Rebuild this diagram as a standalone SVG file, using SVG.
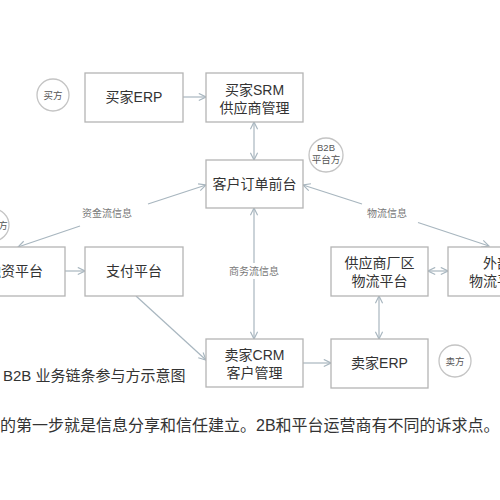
<svg xmlns="http://www.w3.org/2000/svg" width="500" height="500" viewBox="0 0 500 500">
<defs>
<style>
.box{fill:#fff;stroke:#b4b4b4;stroke-width:1.3}
.t{font-family:"Liberation Sans","Noto Sans CJK SC",sans-serif;font-size:14px;fill:#333;text-anchor:middle}
.c{fill:#fff;stroke:#c4c4c4;stroke-width:1.3}
.ct{font-family:"Liberation Sans","Noto Sans CJK SC",sans-serif;font-size:9.5px;fill:#555;text-anchor:middle}
.lbl{font-family:"Liberation Sans","Noto Sans CJK SC",sans-serif;font-size:10px;fill:#777;text-anchor:middle}
.ln{stroke:#a8b6bf;stroke-width:1.2;fill:none}
.cap{font-family:"Liberation Sans","Noto Sans CJK SC",sans-serif;fill:#333}
</style>
<marker id="ah" viewBox="0 0 10 10" refX="9" refY="5" markerWidth="9" markerHeight="9" markerUnits="userSpaceOnUse" orient="auto-start-reverse">
<path d="M1,1 L9,5 L1,9" fill="none" stroke="#a8b6bf" stroke-width="1.3"/>
</marker>
</defs>
<rect width="500" height="500" fill="#fff"/>

<g id="connectors">
<line class="ln" x1="183" y1="97" x2="206" y2="97" marker-end="url(#ah)"/>
<line class="ln" x1="254" y1="122" x2="254" y2="160" marker-start="url(#ah)" marker-end="url(#ah)"/>
<line class="ln" x1="254" y1="208" x2="254" y2="263" marker-start="url(#ah)"/>
<line class="ln" x1="254" y1="279" x2="254" y2="339" marker-end="url(#ah)"/>
<text class="lbl" x="254" y="275">商务流信息</text>
<line class="ln" x1="148" y1="204" x2="206" y2="185" marker-end="url(#ah)"/>
<line class="ln" x1="80" y1="226" x2="18" y2="247" marker-end="url(#ah)"/>
<text class="lbl" x="107" y="217">资金流信息</text>
<line class="ln" x1="362" y1="204" x2="303" y2="185" marker-end="url(#ah)"/>
<line class="ln" x1="418" y1="222.5" x2="489" y2="246" marker-end="url(#ah)"/>
<text class="lbl" x="387" y="217">物流信息</text>
<line class="ln" x1="65" y1="271" x2="85" y2="271" marker-end="url(#ah)"/>
<line class="ln" x1="136" y1="296" x2="206" y2="360" marker-end="url(#ah)"/>
<line class="ln" x1="303" y1="363" x2="331" y2="363" marker-end="url(#ah)"/>
<line class="ln" x1="379" y1="296" x2="379" y2="339" marker-start="url(#ah)" marker-end="url(#ah)"/>
<line class="ln" x1="428" y1="271" x2="448" y2="271" marker-start="url(#ah)" marker-end="url(#ah)"/>
</g>

<g id="buyer-erp"><rect class="box" x="85" y="73" width="98" height="49"/><text class="t" x="134" y="102">买家ERP</text></g>
<g id="buyer-srm"><rect class="box" x="206" y="73" width="97" height="49"/><text class="t" x="254.5" y="95">买家SRM</text><text class="t" x="254.5" y="113">供应商管理</text></g>
<g id="order-front"><rect class="box" x="206" y="160" width="97" height="48"/><text class="t" x="254.5" y="189">客户订单前台</text></g>
<g id="finance"><rect class="box" x="-34" y="247" width="99" height="49"/><text class="t" x="15" y="276">融资平台</text></g>
<g id="payment"><rect class="box" x="85" y="247" width="98" height="49"/><text class="t" x="134" y="276">支付平台</text></g>
<g id="supplier-logistics"><rect class="box" x="331" y="247" width="97" height="49"/><text class="t" x="379.5" y="268">供应商厂区</text><text class="t" x="379.5" y="286">物流平台</text></g>
<g id="external-logistics"><rect class="box" x="448" y="247" width="98" height="49"/><text class="t" x="497" y="268">外部</text><text class="t" x="497" y="286">物流平台</text></g>
<g id="seller-crm"><rect class="box" x="206" y="339" width="97" height="48"/><text class="t" x="254.5" y="360">卖家CRM</text><text class="t" x="254.5" y="378">客户管理</text></g>
<g id="seller-erp"><rect class="box" x="331" y="339" width="97" height="49"/><text class="t" x="379.5" y="368">卖家ERP</text></g>

<g id="buyer-tag"><circle class="c" cx="53" cy="95" r="16"/><text class="ct" x="53" y="98.5">买方</text></g>
<g id="platform-tag"><circle class="c" cx="326" cy="155" r="17"/><text class="ct" x="326" y="151">B2B</text><text class="ct" x="326" y="163">平台方</text></g>
<g id="seller-tag"><circle class="c" cx="455" cy="361" r="16"/><text class="ct" x="455" y="364.5">卖方</text></g>
<g id="funder-tag"><circle class="c" cx="-7" cy="225" r="16"/><text class="ct" x="3" y="228.5">方</text></g>

<text class="cap" x="3" y="381" font-size="15">B2B 业务链条参与方示意图</text>
<text class="cap" x="0" y="431" font-size="16">的第一步就是信息分享和信任建立。2B和平台运营商有不同的诉求点。</text>
</svg>
